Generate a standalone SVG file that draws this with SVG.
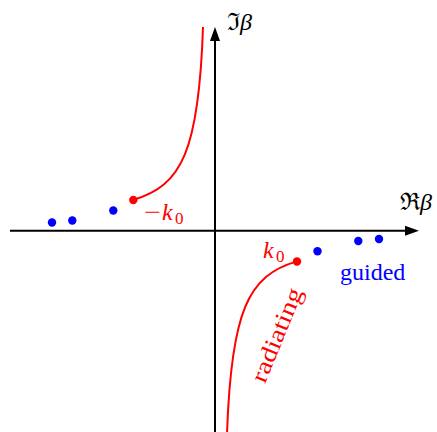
<svg xmlns="http://www.w3.org/2000/svg" width="437" height="432" viewBox="0 0 437 432">
<style>
.ax{stroke:#000;stroke-width:2;fill:none}
.cv{stroke:#f00;stroke-width:2;fill:none}
.bd{fill:#00f}
.rd{fill:#f00}
text{font-family:"Liberation Serif","DejaVu Serif",serif;font-size:24px}
.r{fill:#f00}
.b{fill:#00f}
.i{font-style:italic}
.s{font-size:17px}
</style>
<rect width="437" height="432" fill="#fff"/>
<g id="axes">
<line class="ax" x1="10" y1="230.7" x2="408" y2="230.7"/>
<polygon points="419,230.7 405,225.7 405,235.7" fill="#000"/>
<line class="ax" x1="215" y1="432" x2="215" y2="38"/>
<polygon points="215,27 210,41 220,41" fill="#000"/>
<text x="227" y="30" font-size="23">ℑ<tspan class="i">β</tspan></text>
<text x="400" y="210" font-size="23">ℜ<tspan class="i">β</tspan></text>
</g>
<g id="connectors">
<path class="cv" d="M133,200 C182,186 199,150 203,27"/>
<path class="cv" d="M297,261.4 C248,275.4 231,311.4 227,434.4"/>
</g>
<g id="neg-k0">
<circle class="rd" cx="133.3" cy="200" r="4.2"/>
<text class="r" y="220"><tspan x="144" textLength="17" lengthAdjust="spacingAndGlyphs">−</tspan><tspan class="i" x="162">k</tspan><tspan class="s" x="175" dy="3.5">0</tspan></text>
</g>
<g id="k0">
<circle class="rd" cx="297" cy="261.5" r="4.2"/>
<text class="r" y="258"><tspan class="i" x="263">k</tspan><tspan class="s" x="276" dy="3.5">0</tspan></text>
</g>
<g id="left-dots">
<circle class="bd" cx="52" cy="222.5" r="4.2"/>
<circle class="bd" cx="72.3" cy="220.5" r="4.2"/>
<circle class="bd" cx="113.3" cy="210.5" r="4.2"/>
</g>
<g id="guided">
<circle class="bd" cx="317.5" cy="251.3" r="4.2"/>
<circle class="bd" cx="358.3" cy="241" r="4.2"/>
<circle class="bd" cx="379" cy="239" r="4.2"/>
<text class="b" x="340" y="280" font-size="21">guided</text>
</g>
<g id="radiating">
<text class="r" font-size="24" text-anchor="middle" textLength="100" lengthAdjust="spacingAndGlyphs" transform="translate(284,338) rotate(-67.7)">radiating</text>
</g>
</svg>
